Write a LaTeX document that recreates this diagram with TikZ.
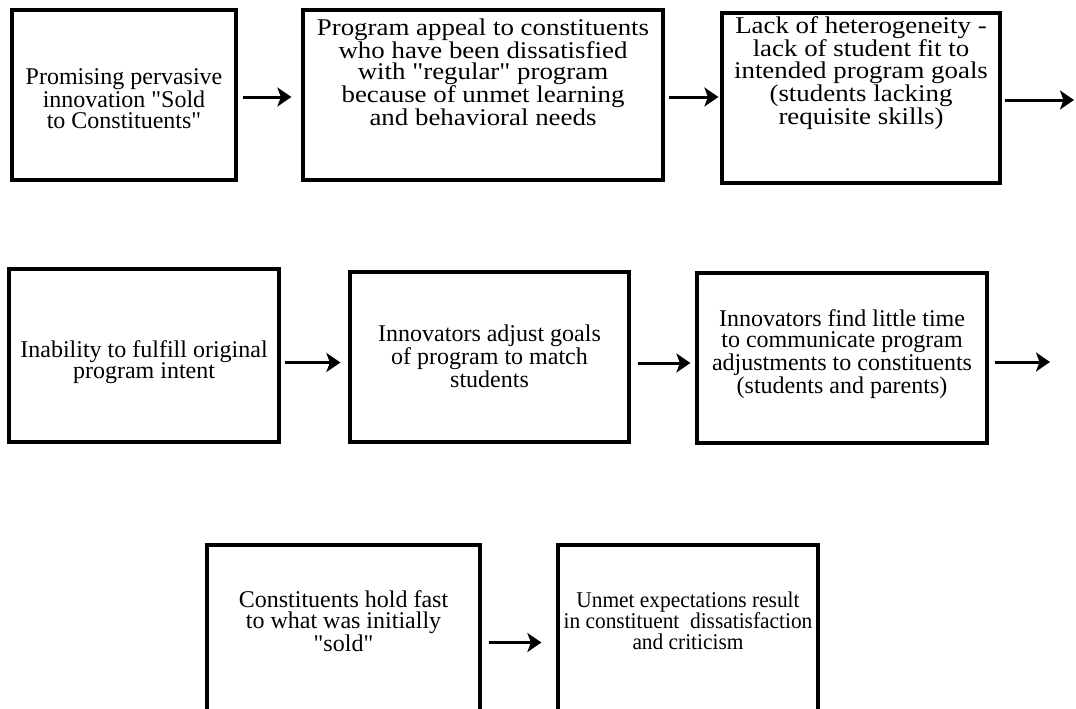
\documentclass[tikz,border=0pt]{standalone}
\usepackage{fontspec}
\setmainfont{Liberation Serif}[Ligatures=TeXOff]
\newfontfamily\widefont{Liberation Serif}[Ligatures=TeXOff,FakeStretch=1.12]
\newfontfamily\narrowfont{Liberation Serif}[Ligatures=TeXOff,FakeStretch=0.95]
\usetikzlibrary{arrows.meta}
\tikzset{
  boxnode/.style={draw=black, line width=3.2pt, rectangle, inner sep=0pt},
  txt/.style={align=center, inner sep=0pt, font=\fontsize{24}{21.5}\selectfont},
  arr/.style={line width=3pt, -{Stealth[length=14pt,width=19pt,inset=3.5pt]}}
}
\begin{document}
\begin{tikzpicture}[x=1pt,y=-1pt]
\useasboundingbox (0,0) rectangle (1076,709);
\clip (0,0) rectangle (1076,709);
% row 1
\node[boxnode, minimum width=224, minimum height=170] (b1) at (124,95) {};
\node[boxnode, minimum width=360, minimum height=170] (b2) at (483,95) {};
\node[boxnode, minimum width=278, minimum height=170] (b3) at (861,98) {};
\node[txt] (t1) at (124,99) {Promising pervasive\\innovation "Sold\\to Constituents"};
\node[txt, font=\widefont\fontsize{24}{21.3}\selectfont] (t2) at (483,72) {Program appeal to constituents\\who have been dissatisfied\\with "regular" program\\because of unmet learning\\and behavioral needs};
\node[txt, font=\widefont\fontsize{24}{21.5}\selectfont] (t3) at (861,73) {Lack of heterogeneity -\\lack of student fit to\\intended program goals\\(students lacking\\requisite skills)};
% row 2
\node[boxnode, minimum width=270, minimum height=173] (b4) at (144,355.5) {};
\node[boxnode, minimum width=279, minimum height=170] (b5) at (489.5,357) {};
\node[boxnode, minimum width=290, minimum height=170] (b6) at (842,358) {};
\node[txt] (t4) at (144,362) {Inability to fulfill original\\program intent};
\node[txt] (t5) at (489.5,356) {Innovators adjust goals\\of program to match\\students};
\node[txt] (t6) at (842,354) {Innovators find little time\\to communicate program\\adjustments to constituents\\(students and parents)};
% row 3
\node[boxnode, minimum width=273, minimum height=195] (b7) at (343.5,642.5) {};
\node[boxnode, minimum width=260, minimum height=195] (b8) at (688,642.5) {};
\node[txt, font=\fontsize{24}{21}\selectfont] (t7) at (343.5,621) {Constituents hold fast\\to what was initially\\"sold"};
\node[txt, font=\narrowfont\fontsize{22.5}{21}\selectfont] (t8) at (688,621) {Unmet expectations result\\in constituent\ \ dissatisfaction\\and criticism};
% connectors
\coordinate (e1) at (1074,100);
\coordinate (e2) at (1050,362);
\draw[arr, shorten <=5pt, shorten >=10pt] ([yshift=-2pt]b1.east) -- ([yshift=-2pt]b1.east -| b2.west);
\draw[arr, shorten <=4pt, shorten >=2pt] ([yshift=-2pt]b2.east) -- ([yshift=-2pt]b2.east -| b3.west);
\draw[arr, shorten <=3pt] (b3.east |- e1) -- (e1);
\draw[arr, shorten <=4pt, shorten >=8pt] ([yshift=-7pt]b4.east) -- ([yshift=-7pt]b4.east -| b5.west);
\draw[arr, shorten <=7pt, shorten >=5pt] ([yshift=-6pt]b5.east) -- ([yshift=-6pt]b5.east -| b6.west);
\draw[arr, shorten <=6pt] (b6.east |- e2) -- (e2);
\draw[arr, shorten <=7pt, shorten >=15pt] (b7.east) -- (b8.west);
\end{tikzpicture}
\end{document}
